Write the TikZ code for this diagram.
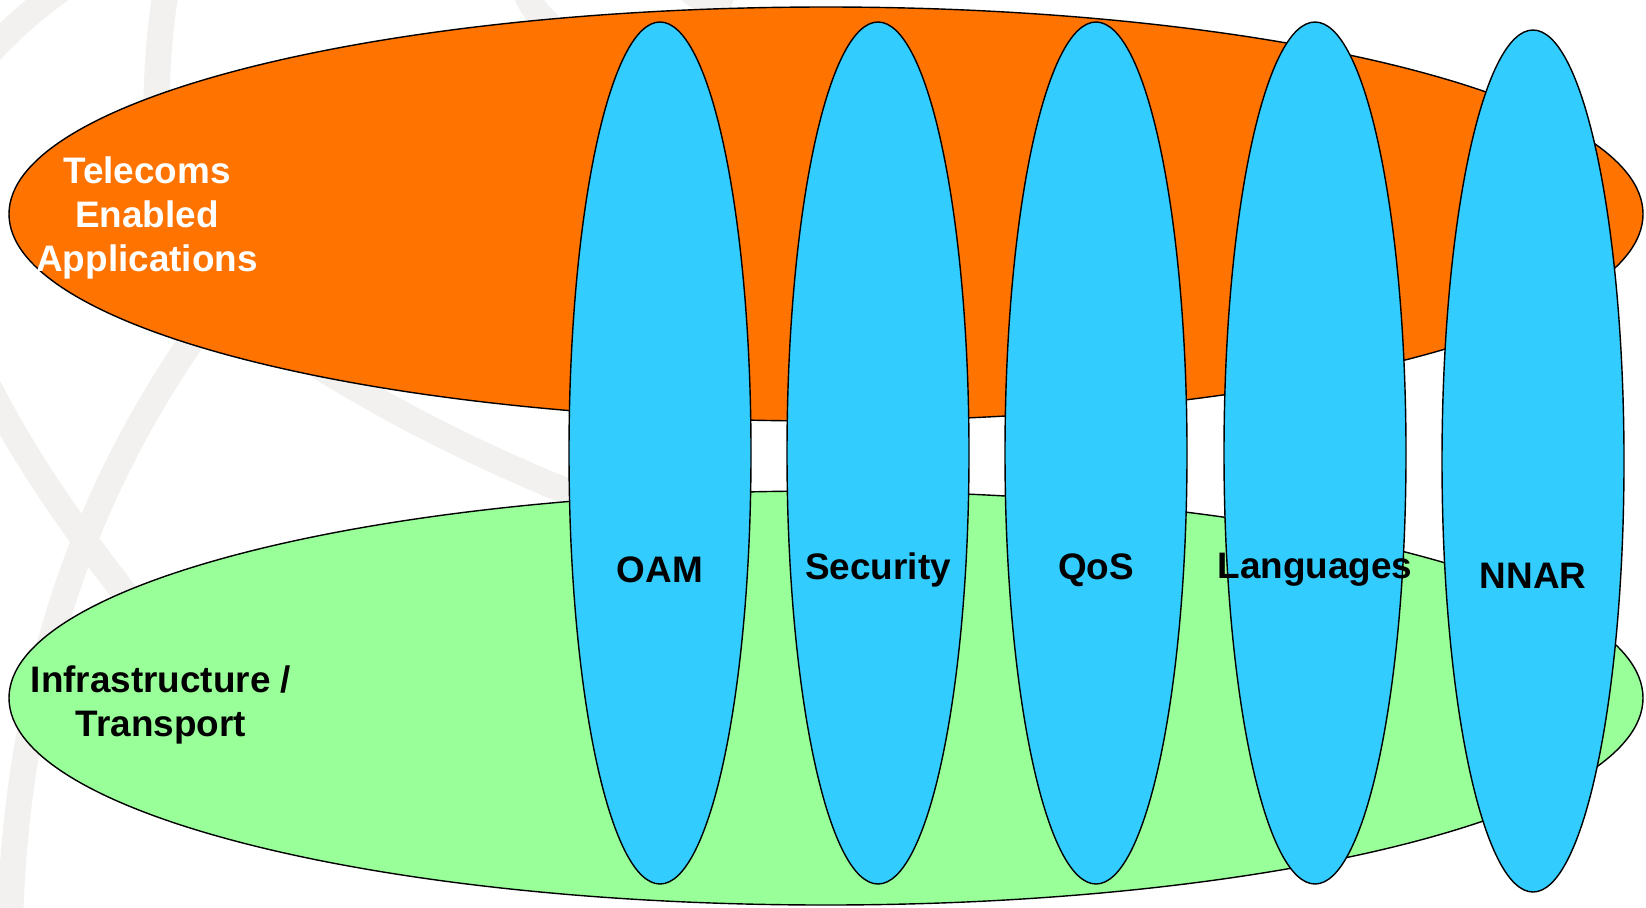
\documentclass[tikz,border=0pt]{standalone}
\usepackage{fontspec}
\setmainfont{Liberation Sans}
\usepackage{tikz}
\usepackage{xcolor}
\definecolor{appsorange}{HTML}{FF7300}
\definecolor{infragreen}{HTML}{99FF99}
\definecolor{pillarblue}{HTML}{33CCFF}
\definecolor{wmgrey}{HTML}{F2F1EF}

\begin{document}
\begin{tikzpicture}[x=0.02cm, y=-0.02cm, layer/.style={draw=black, line width=0.8pt}, main text/.style={font=\fontsize{21}{25}\selectfont\bfseries, align=center, inner sep=0pt}, wm/.style={draw=wmgrey, line width=0.52cm}]
    \useasboundingbox (0,0) rectangle (1646,907);

    % faint background rings
    \begin{scope}
        \clip (0,0) rectangle (1646,907);
        \draw[wm] (-20,62) .. controls (10,30) and (30,12) .. (60,-10);
        \draw[wm] (166,-10) .. controls (158,40) and (155,90) .. (157,150);
        \draw[wm] (-20,370) .. controls (20,450) and (60,510) .. (130,600);
        \draw[wm] (260,250) .. controls (120,420) and (20,620) .. (10,920);
        \draw[wm] (200,280) .. controls (300,365) and (450,450) .. (640,520);
        \draw[wm] (525,-10) .. controls (530,5) and (538,15) .. (550,25);
        \draw[wm] (690,-10) .. controls (700,0) and (715,5) .. (730,10);
    \end{scope}

    % horizontal layers
    \draw[layer, fill=appsorange] (826,214) ellipse (817 and 207);
    \draw[layer, fill=infragreen] (826,698) ellipse (817 and 207);

    % vertical pillars
    \draw[layer, fill=pillarblue] (660,453) ellipse (91 and 431);
    \draw[layer, fill=pillarblue] (878,453) ellipse (91 and 431);
    \draw[layer, fill=pillarblue] (1096,453) ellipse (91 and 431);
    \draw[layer, fill=pillarblue] (1315,453) ellipse (91 and 431);
    \draw[layer, fill=pillarblue] (1533,461) ellipse (91 and 431);

    \node[main text, text=white] (apps) at (147,218) {Telecoms\\Enabled\\Applications};
    \node[main text] (infra) at (161,705) {Infrastructure /\\Transport};
    \node[main text] (oam) at (660,570) {OAM};
    \node[main text] (sec) at (878,570) {Security};
    \node[main text] (qos) at (1096,570) {QoS};
    \node[main text] (lang) at (1315,570) {Languages};
    \node[main text] (nnar) at (1533,576) {NNAR};
\end{tikzpicture}
\end{document}
